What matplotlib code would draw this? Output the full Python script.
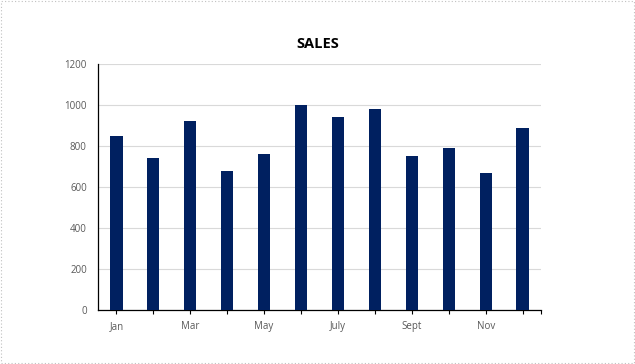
import matplotlib.pyplot as plt
from matplotlib.patches import Rectangle

months = ["Jan", "Feb", "Mar", "Apr", "May", "June",
          "July", "Aug", "Sept", "Oct", "Nov", "Dec"]
shown_labels = ["Jan", "", "Mar", "", "May", "", "July", "", "Sept", "", "Nov", ""]
sales = [850, 740, 920, 680, 760, 1000, 940, 980, 750, 790, 670, 890]

plt.rcParams["font.family"] = ["Open Sans", "DejaVu Sans"]

fig = plt.figure(figsize=(6.35, 3.64), dpi=100)
ax = fig.add_axes([0.1543, 0.1484, 0.6977, 0.6758])

x = list(range(len(months)))
ax.bar(x, sales, width=0.33, color="#002060", zorder=3)

ax.set_xlim(-0.5, len(months) - 0.5)
ax.set_ylim(0, 1200)
ax.set_yticks(range(0, 1201, 200))
ax.grid(axis="y", color="#d9d9d9", linewidth=0.8, zorder=0)

# tick marks under each bar plus one at the right end
ax.set_xticks(x + [len(months) - 0.5])
ax.set_xticklabels(shown_labels + [""])
ax.tick_params(axis="x", length=3, width=0.8, color="black", pad=5,
               labelsize=7, labelcolor="#595959")
ax.tick_params(axis="y", length=0, pad=8, labelsize=7, labelcolor="#595959")

for side in ["top", "right"]:
    ax.spines[side].set_visible(False)
for side in ["left", "bottom"]:
    ax.spines[side].set_color("black")
    ax.spines[side].set_linewidth(0.9)

fig.text(0.5, 0.878, "SALES", ha="center", va="center",
         fontsize=10.5, fontweight="bold", color="black")

fig.patches.append(Rectangle((0.002, 0.003), 0.996, 0.994, transform=fig.transFigure,
                             fill=False, edgecolor="#c0c0c0", linestyle=(0, (1, 2)),
                             linewidth=0.8))

fig.savefig("out.png", dpi=100)
